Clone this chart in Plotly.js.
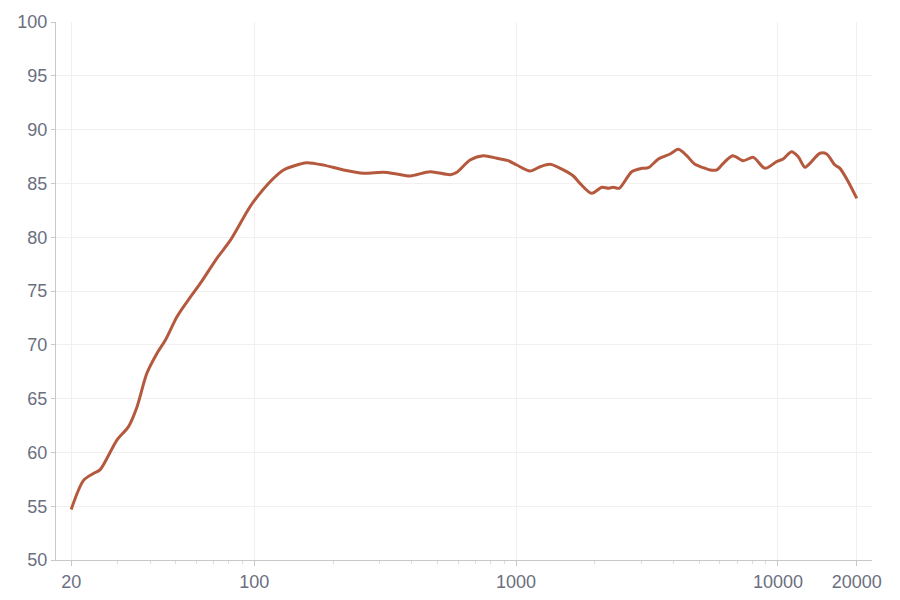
<!DOCTYPE html>
<html>
<head>
<meta charset="utf-8">
<script src="https://cdn.plot.ly/plotly-3.0.1.min.js"></script>
<style>html,body{margin:0;padding:0;background:#fff;}#chart{width:900px;height:600px;}</style>
</head>
<body>
<div id="chart"></div>
<script>
const freqs = [20, 22.3, 24.4, 25.8, 29.9, 33.1, 35.7, 38.9, 42.5, 45.8, 50.7, 55.4, 62.2, 72, 81, 93.8, 99.4, 115, 129.4, 149.8, 159, 184, 219, 261, 311.5, 350, 394, 470, 560, 594, 667, 750, 844, 934, 1006, 1130, 1235, 1349, 1515, 1655, 1754, 1945, 2124, 2250, 2350, 2477, 2764, 3020, 3200, 3495, 3873, 4165, 4482, 4820, 5188, 5503, 5833, 6183, 6715, 7373, 8050, 8916, 9880, 10470, 11270, 11950, 12670, 13250, 14470, 15340, 16500, 17250, 18550, 20000];
const spl = [54.7, 57.4, 58.06, 58.4, 61.15, 62.4, 64.25, 67.35, 69.2, 70.45, 72.6, 74.0, 75.7, 78.04, 79.7, 82.37, 83.3, 85.16, 86.25, 86.8, 86.93, 86.7, 86.25, 85.94, 86.03, 85.87, 85.69, 86.09, 85.81, 86.03, 87.17, 87.58, 87.33, 87.11, 86.71, 86.15, 86.55, 86.77, 86.25, 85.69, 85.0, 84.08, 84.64, 84.55, 84.64, 84.55, 86.09, 86.4, 86.46, 87.27, 87.73, 88.17, 87.58, 86.77, 86.46, 86.25, 86.25, 86.87, 87.58, 87.11, 87.42, 86.4, 87.02, 87.27, 87.95, 87.48, 86.5, 86.87, 87.8, 87.73, 86.71, 86.4, 85.16, 83.6];
const xTickVals = [20, 100, 1000, 10000, 20000];
const xTickText = ['20', '100', '1000', '10000', '20000'];
const xMinorVals = [30, 40, 50, 60, 70, 80, 90, 200, 300, 400, 500, 600, 700, 800, 900, 2000, 3000, 4000, 5000, 6000, 7000, 8000, 9000];
const yTickVals = [50, 55, 60, 65, 70, 75, 80, 85, 90, 95, 100];

const axisColor = '#c8c8cc';
const gridColor = '#f1f0ee';
const labelFont = {family: '"Liberation Sans", Arial, sans-serif', size: 18, color: '#6b6f80'};

Plotly.newPlot('chart', [{
  x: freqs,
  y: spl,
  type: 'scatter',
  mode: 'lines',
  line: {color: '#b5593e', width: 3, shape: 'spline', smoothing: 0.8},
  hoverinfo: 'skip'
}], {
  width: 900,
  height: 600,
  margin: {l: 56, r: 28, t: 22, b: 40},
  paper_bgcolor: '#ffffff',
  plot_bgcolor: '#ffffff',
  showlegend: false,
  font: labelFont,
  xaxis: {
    type: 'log',
    range: [Math.log10(17.5), Math.log10(22860)],
    tickvals: xTickVals,
    ticktext: xTickText,
    showgrid: true,
    gridcolor: gridColor,
    gridwidth: 1,
    zeroline: false,
    showline: true,
    linecolor: axisColor,
    linewidth: 1,
    ticks: 'outside',
    ticklen: 5,
    tickcolor: axisColor,
    tickfont: labelFont,
    minor: {tickmode: 'array', tickvals: xMinorVals, ticks: 'outside', ticklen: 3, tickcolor: '#dddde0', showgrid: false}
  },
  yaxis: {
    range: [50, 100],
    tickvals: yTickVals,
    showgrid: true,
    gridcolor: gridColor,
    gridwidth: 1,
    zeroline: false,
    showline: true,
    linecolor: axisColor,
    linewidth: 1,
    ticks: 'outside',
    ticklen: 4,
    tickcolor: axisColor,
    tickfont: labelFont
  }
}, {displayModeBar: false, staticPlot: true});
</script>
</body>
</html>
